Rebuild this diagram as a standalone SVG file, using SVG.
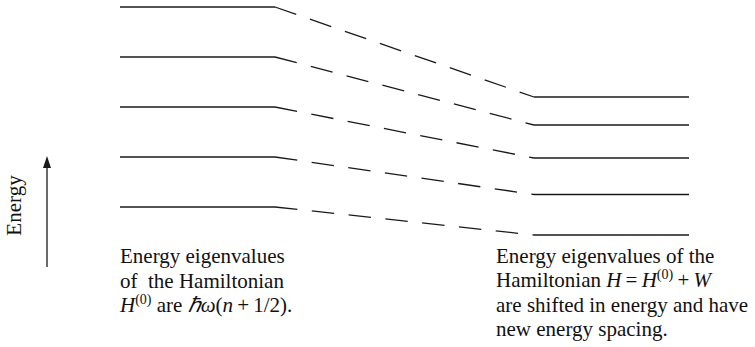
<svg xmlns="http://www.w3.org/2000/svg" width="755" height="347" viewBox="0 0 755 347">
<style>
.lvl{stroke:#1a1a1a;stroke-width:1.3;fill:none}
.dash{stroke:#1a1a1a;stroke-width:1.3;fill:none;stroke-dasharray:22.5 14.5}
.t{font-family:'Liberation Serif','Times New Roman',Times,serif;font-size:21px;fill:#111}
.i{font-style:italic}
.sup{font-size:14px}
</style>
<defs>
<marker id="ah" markerWidth="12" markerHeight="8" refX="1" refY="4" orient="auto" markerUnits="userSpaceOnUse" viewBox="0 0 12 8">
<path d="M0,0 L12,4 L0,8 Z" fill="#1a1a1a"/>
</marker>
</defs>
<g id="left-levels">
<line class="lvl" x1="120" y1="7" x2="275" y2="7"/>
<line class="lvl" x1="120" y1="57" x2="275" y2="57"/>
<line class="lvl" x1="120" y1="107" x2="275" y2="107"/>
<line class="lvl" x1="120" y1="157" x2="275" y2="157"/>
<line class="lvl" x1="120" y1="207" x2="275" y2="207"/>
</g>
<g id="right-levels">
<line class="lvl" x1="534" y1="97" x2="689" y2="97"/>
<line class="lvl" x1="534" y1="125" x2="689" y2="125"/>
<line class="lvl" x1="534" y1="158" x2="689" y2="158"/>
<line class="lvl" x1="534" y1="194.5" x2="689" y2="194.5"/>
<line class="lvl" x1="534" y1="235" x2="689" y2="235"/>
</g>
<g id="connectors">
<line class="dash" x1="275" y1="7" x2="534" y2="97"/>
<line class="dash" x1="275" y1="57" x2="534" y2="125"/>
<line class="dash" x1="275" y1="107" x2="534" y2="158"/>
<line class="dash" x1="275" y1="157" x2="534" y2="194.5"/>
<line class="dash" x1="275" y1="207" x2="534" y2="235"/>
</g>
<g id="energy-axis">
<line x1="47" y1="267" x2="47" y2="167" stroke="#1a1a1a" stroke-width="1.3" marker-end="url(#ah)"/>
<text class="t" transform="translate(21,205.5) rotate(-90)" text-anchor="middle">Energy</text>
</g>
<g id="left-caption">
<text class="t" x="120" y="263">Energy eigenvalues</text>
<text class="t" x="120" y="287.5">of&#160; the Hamiltonian</text>
<text class="t" x="120" y="312"><tspan class="i">H</tspan><tspan class="sup" dy="-8">(0)</tspan><tspan dy="8"> are </tspan><tspan class="i">ℏω</tspan>(<tspan class="i">n</tspan>&#8201;+&#8201;1/2).</text>
</g>
<g id="right-caption">
<text class="t" x="496" y="262.5">Energy eigenvalues of the</text>
<text class="t" x="496" y="287">Hamiltonian <tspan class="i">H</tspan>&#8201;=&#8201;<tspan class="i">H</tspan><tspan class="sup" dy="-8">(0)</tspan><tspan dy="8">&#8201;+&#8201;</tspan><tspan class="i">W</tspan></text>
<text class="t" x="496" y="311.5">are shifted in energy and have</text>
<text class="t" x="496" y="336">new energy spacing.</text>
</g>
</svg>
